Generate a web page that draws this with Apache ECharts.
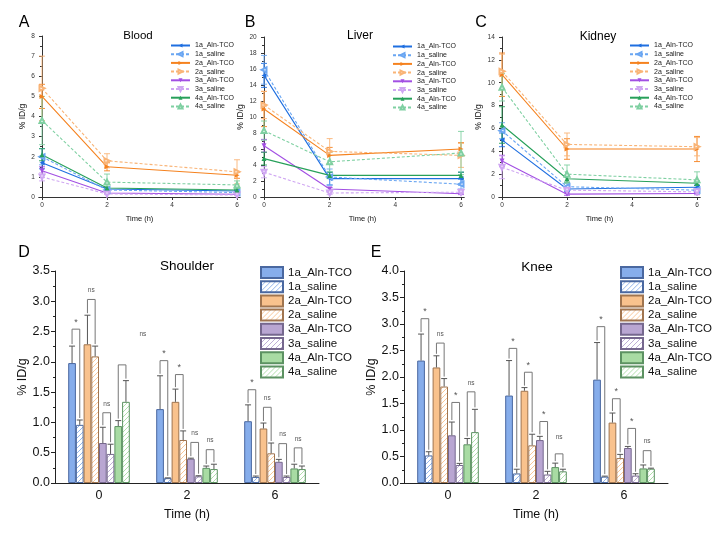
<!DOCTYPE html>
<html>
<head>
<meta charset="utf-8">
<title>biodistribution</title>
<script src="https://cdn.jsdelivr.net/npm/echarts@6/dist/echarts.min.js"></script>
<style>
html, body { margin:0; padding:0; background:#fff; }
.layer { position:absolute; left:0; top:0; width:715px; height:536px; }
</style>
</head>
<body>
<div id="lines" class="layer"></div>
<div id="bars" class="layer"></div>
<script>
// groups, same order everywhere
var names = ['1a_Aln-TCO','1a_saline','2a_Aln-TCO','2a_saline','3a_Aln-TCO','3a_saline','4a_Aln-TCO','4a_saline'];
var hours = [0, 2, 6];
var timeCats = ['0', '2', '6'];

// A - blood (%ID/g, mean and sd)
var bloodMean = [[1.7,0.4,0.3],[2.0,0.35,0.22],[5.0,1.5,1.08],[5.4,1.8,1.25],[1.3,0.2,0.14],[1.0,0.15,0.1],[2.1,0.45,0.35],[3.8,0.74,0.6]];
var bloodErr  = [[0.3,0.05,0.05],[0.4,0.1,0.05],[0.6,0.2,0.15],[1.6,0.35,0.6],[0.2,0.03,0.03],[0.2,0.03,0.03],[0.3,0.05,0.05],[1.2,0.4,0.2]];
// B - liver
var liverMean = [[15.2,2.3,2.3],[15.9,2.5,1.6],[11.0,5.2,6.0],[11.5,5.7,5.2],[6.4,1.0,0.4],[3.1,0.5,0.6],[4.8,2.7,2.7],[8.3,4.4,5.5]];
var liverErr  = [[1.5,0.8,0.8],[1.8,1.0,0.6],[2.2,1.0,0.8],[1.7,1.6,1.5],[0.8,0.2,0.1],[0.7,0.2,0.2],[0.8,0.4,0.4],[1.2,1.2,2.7]];
// C - kidney
var kidneyMean = [[5.0,0.7,0.85],[5.8,0.9,0.6],[10.7,4.2,4.2],[11.0,4.6,4.4],[3.15,0.25,0.3],[2.6,0.6,0.45],[6.3,1.6,1.2],[9.6,2.0,1.5]];
var kidneyErr  = [[0.6,0.2,0.2],[0.7,0.3,0.2],[1.9,0.9,1.1],[1.5,1.0,0.8],[0.5,0.1,0.1],[1.0,0.2,0.2],[1.6,0.3,0.2],[1.2,0.8,0.7]];

// D - shoulder
var shoulderMean = [[1.98,1.22,1.02],[0.96,0.08,0.10],[2.29,1.34,0.90],[2.09,0.71,0.49],[0.66,0.40,0.35],[0.48,0.11,0.10],[0.94,0.25,0.24],[1.34,0.23,0.23]];
var shoulderErr  = [[0.28,0.55,0.27],[0.08,0.005,0.015],[0.48,0.21,0.09],[0.17,0.15,0.17],[0.26,0.01,0.04],[0.16,0.01,0.015],[0.09,0.03,0.07],[0.35,0.08,0.05]];
// [time index, pair, bracket height, label, label height, label slot]
var shoulderSig = [
  [0,0,2.54,'*'],[0,1,3.03,'ns'],[0,2,1.16,'ns'],[0,3,1.95,'ns',2.46,9.7],
  [1,0,2.02,'*'],[1,1,1.79,'*'],[1,2,0.67,'ns'],[1,3,0.55,'ns'],
  [2,0,1.54,'*'],[2,1,1.25,'ns'],[2,2,0.65,'ns'],[2,3,0.58,'ns']
];
// E - knee
var kneeMean = [[2.31,1.65,1.95],[0.52,0.18,0.12],[2.18,1.74,1.14],[1.82,0.71,0.47],[0.90,0.81,0.66],[0.34,0.16,0.14],[0.73,0.30,0.275],[0.96,0.22,0.27]];
var kneeErr  = [[0.50,0.66,0.70],[0.07,0.08,0.01],[0.22,0.06,0.18],[0.15,0.21,0.07],[0.25,0.07,0.03],[0.03,0.06,0.035],[0.11,0.075,0.065],[0.43,0.04,0.01]];
var kneeSig = [
  [0,0,3.1,'*'],[0,1,2.64,'ns'],[0,2,1.52,'*'],[0,3,1.72,'ns'],
  [1,0,2.54,'*'],[1,1,2.09,'*'],[1,2,1.16,'*'],[1,3,0.55,'ns',0.86],
  [2,0,2.95,'*'],[2,1,1.59,'*'],[2,2,1.03,'*'],[2,3,0.61,'ns']
];

var FONT = 'Arial, "Liberation Sans", sans-serif';
var lineColors = ['#1f6fe0','#6aa6f2','#f5821f','#f9b477','#a24fe3','#cfa6f2','#27a05a','#7fd0a2'];
var symRot = [90, 90, -90, -90, 180, 180, 0, 0];
var barFill = ['#86adeb','#f9c28d','#b9a6d2','#a8dba3'];
var barEdge = ['#4a68a0','#a07550','#76688e','#5c9262'];

function txt(x, y, s, size) {
  return {type:'text', x:x, y:y, style:{text:s, font:size+'px '+FONT, fill:'#000',
    align:'center', verticalAlign:'middle', textAlign:'center', textVerticalAlign:'middle'}};
}

/* ---------- line charts A B C ---------- */
var lineChart = echarts.init(document.getElementById('lines'));
var panels = [
  {mean:bloodMean, err:bloodErr, max:8, step:1, left:42, top:36, width:195, height:161, leg:[170,42]},
  {mean:liverMean, err:liverErr, max:20, step:2, left:264, top:37, width:197, height:160, leg:[392,43]},
  {mean:kidneyMean, err:kidneyErr, max:14, step:2, left:502, top:37, width:195, height:160, leg:[629,42]}
];

function errLine(params, api) {
  var x = api.value(0), y = api.value(1), e = api.value(2);
  var hi = api.coord([x, y + e]), lo = api.coord([x, Math.max(y - e, 0)]);
  var st = {stroke: api.visual('color'), lineWidth: 0.9};
  return {type:'group', children:[
    {type:'line', shape:{x1:hi[0], y1:hi[1], x2:lo[0], y2:lo[1]}, style:st},
    {type:'line', shape:{x1:hi[0]-3, y1:hi[1], x2:hi[0]+3, y2:hi[1]}, style:st},
    {type:'line', shape:{x1:lo[0]-3, y1:lo[1], x2:lo[0]+3, y2:lo[1]}, style:st}
  ]};
}

var lgrid = [], lx = [], ly = [], lseries = [], llegend = [];
panels.forEach(function (p, g) {
  var w = p.width / 6 * 0.1;
  lgrid.push({left:p.left - w, top:p.top, width:p.width + 2 * w, height:p.height});
  lx.push({type:'value', gridIndex:g, min:-0.1, max:6.1, name:'Time (h)', nameLocation:'middle', nameGap:18,
    nameTextStyle:{fontSize:7.5, fontFamily:FONT, color:'#111'},
    axisLine:{lineStyle:{color:'#333'}}, splitLine:{show:false},
    axisTick:{customValues:[0,2,4,6], length:3, lineStyle:{color:'#333'}},
    axisLabel:{customValues:[0,2,4,6], fontSize:6.5, fontFamily:FONT, color:'#333', margin:5}});
  ly.push({type:'value', gridIndex:g, min:0, max:p.max, interval:p.step, name:'% ID/g', nameLocation:'middle',
    nameGap:8, nameTextStyle:{fontSize:8.5, fontFamily:FONT, color:'#111'},
    axisLine:{show:true, lineStyle:{color:'#333'}}, splitLine:{show:false},
    axisTick:{show:true, length:3, lineStyle:{color:'#333'}},
    minorTick:{show:true, splitNumber:2, length:2, lineStyle:{color:'#333'}},
    axisLabel:{fontSize:6.5, fontFamily:FONT, color:'#333', margin:4}});
  for (var i = 0; i < 8; i++) {
    lseries.push({type:'custom', name:'err' + g + i, xAxisIndex:g, yAxisIndex:g, z:1,
      itemStyle:{color:lineColors[i]}, renderItem:errLine,
      data:hours.map(function (h, k) { return [h, p.mean[i][k], p.err[i][k]]; })});
  }
  for (var j = 0; j < 8; j++) {
    var sal = j % 2 === 1;
    lseries.push({type:'line', name:names[j], xAxisIndex:g, yAxisIndex:g, z:3,
      symbol: sal ? 'emptyTriangle' : 'triangle', symbolSize:5, symbolRotate:symRot[j],
      color:lineColors[j],
      lineStyle:{width:1.1, type: sal ? [3, 2] : 'solid'},
      data:hours.map(function (h, k) { return [h, p.mean[j][k]]; })});
  }
  llegend.push({data:names, orient:'vertical', left:p.leg[0], top:p.leg[1], itemWidth:19, itemHeight:5,
    itemGap:1.7, padding:0, textStyle:{fontSize:7, lineHeight:7, fontFamily:FONT, color:'#222'}});
});

lineChart.setOption({
  animation:false,
  grid:lgrid, xAxis:lx, yAxis:ly, legend:llegend, series:lseries,
  graphic:[txt(24,23,'A',16), txt(250,23,'B',16), txt(481,23,'C',16),
    txt(138,36,'Blood',11.5), txt(360,36,'Liver',12), txt(598,37,'Kidney',12)]
});

/* ---------- bar charts D E ---------- */
function hatch(c) {
  var cv = document.createElement('canvas');
  cv.width = 5; cv.height = 5;
  var x = cv.getContext('2d');
  x.fillStyle = '#ffffff'; x.fillRect(0, 0, 5, 5);
  x.strokeStyle = c; x.lineWidth = 0.9;
  x.beginPath();
  x.moveTo(-1, 6); x.lineTo(6, -1);
  x.moveTo(-1, 1); x.lineTo(1, -1);
  x.moveTo(4, 6); x.lineTo(6, 4);
  x.stroke();
  return {image:cv, repeat:'repeat'};
}

var barChart = echarts.init(document.getElementById('bars'));
var bpanels = [
  {mean:shoulderMean, err:shoulderErr, sig:shoulderSig, max:3.5, left:55, leg:260},
  {mean:kneeMean, err:kneeErr, sig:kneeSig, max:4.0, left:404, leg:620}
];

function slotX(api, cat, slot) {
  var c = api.coord([cat, 0]);
  var band = api.size([1, 0])[0];
  var w = band * 0.7 / 8;
  return c[0] - band * 0.35 + slot * w;
}

var bgrid = [], bx = [], by = [], bseries = [], blegend = [];
bpanels.forEach(function (p, g) {
  bgrid.push({left:p.left, top:271, width:264, height:212});
  bx.push({type:'category', gridIndex:g, data:timeCats, name:'Time (h)', nameLocation:'middle', nameGap:25,
    nameTextStyle:{fontSize:12.5, fontFamily:FONT, color:'#111'},
    axisLine:{lineStyle:{color:'#222'}},
    axisTick:{alignWithLabel:true, length:3, lineStyle:{color:'#222'}},
    axisLabel:{fontSize:12.5, fontFamily:FONT, color:'#111', margin:6}});
  by.push({type:'value', gridIndex:g, min:0, max:p.max, interval:0.5, name:'% ID/g', nameLocation:'middle',
    nameGap:23, nameTextStyle:{fontSize:12.5, fontFamily:FONT, color:'#111'},
    axisLine:{show:true, lineStyle:{color:'#222'}}, splitLine:{show:false},
    axisTick:{show:true, length:4, lineStyle:{color:'#222'}},
    minorTick:{show:true, splitNumber:2, length:2, lineStyle:{color:'#222'}},
    axisLabel:{fontSize:12.5, fontFamily:FONT, color:'#111', margin:5,
      formatter:function (v) { return v.toFixed(1); }}});
  for (var i = 0; i < 8; i++) {
    var h = i >> 1;
    bseries.push({type:'bar', name:names[i], xAxisIndex:g, yAxisIndex:g, barGap:'0%', barCategoryGap:'30%',
      itemStyle:{color: i % 2 ? hatch(barFill[h]) : barFill[h], borderColor:barEdge[h], borderWidth:1},
      data:p.mean[i]});
  }
  // error bars on top of bars
  var errData = [];
  for (var k = 0; k < 8; k++) {
    for (var t = 0; t < 3; t++) errData.push([t, p.mean[k][t], p.err[k][t], k]);
  }
  bseries.push({type:'custom', name:'sd' + g, xAxisIndex:g, yAxisIndex:g, z:5, data:errData,
    renderItem:function (params, api) {
      var cat = api.value(0), m = api.value(1), e = api.value(2), k = api.value(3);
      var x = slotX(api, cat, k + 0.5);
      var y0 = api.coord([cat, m])[1], y1 = api.coord([cat, m + e])[1];
      var st = {stroke:'#555', lineWidth:1};
      return {type:'group', children:[
        {type:'line', shape:{x1:x, y1:y0, x2:x, y2:y1}, style:st},
        {type:'line', shape:{x1:x-3, y1:y1, x2:x+3, y2:y1}, style:st}
      ]};
    }});
  // significance brackets
  bseries.push({type:'custom', name:'sig' + g, xAxisIndex:g, yAxisIndex:g, z:6,
    data:p.sig.map(function (s) { return [s[0], s[2]]; }),
    renderItem:(function (p) { return function (params, api) {
      var s = p.sig[params.dataIndex];
      var cat = s[0], a = s[1] * 2, b = a + 1;
      var xl = slotX(api, cat, a + 0.5), xr = slotX(api, cat, b + 0.5);
      var yt = api.coord([cat, s[2]])[1];
      var yl = api.coord([cat, p.mean[a][cat] + p.err[a][cat]])[1] - 2;
      var yr = api.coord([cat, p.mean[b][cat] + p.err[b][cat]])[1] - 2;
      var lx = s.length > 5 ? slotX(api, cat, s[5]) : (xl + xr) / 2;
      var lyy = s.length > 4 ? api.coord([cat, s[4]])[1] : yt - 9;
      var star = s[3] === '*';
      return {type:'group', children:[
        {type:'polyline', shape:{points:[[xl, yl], [xl, yt], [xr, yt], [xr, yr]]},
          style:{stroke:'#777', lineWidth:1, fill:null}},
        {type:'text', x:lx, y:lyy + (star ? 2 : 0), style:{text:s[3], font:(star ? 9 : 6.5) + 'px ' + FONT,
          fill:'#555', align:'center', verticalAlign:'middle', textAlign:'center', textVerticalAlign:'middle'}}
      ]};
    }; })(p)});
  blegend.push({data:names, orient:'vertical', left:p.leg, top:266, icon:'rect', itemWidth:22, itemHeight:11,
    itemGap:1.2, padding:0, textStyle:{fontSize:11.5, lineHeight:11, fontFamily:FONT, color:'#111'}});
});

barChart.setOption({
  animation:false,
  grid:bgrid, xAxis:bx, yAxis:by, legend:blegend, series:bseries,
  graphic:[txt(24,253,'D',16), txt(376,253,'E',16), txt(187,266,'Shoulder',13.5), txt(537,267,'Knee',13.5)]
});
</script>
</body>
</html>
